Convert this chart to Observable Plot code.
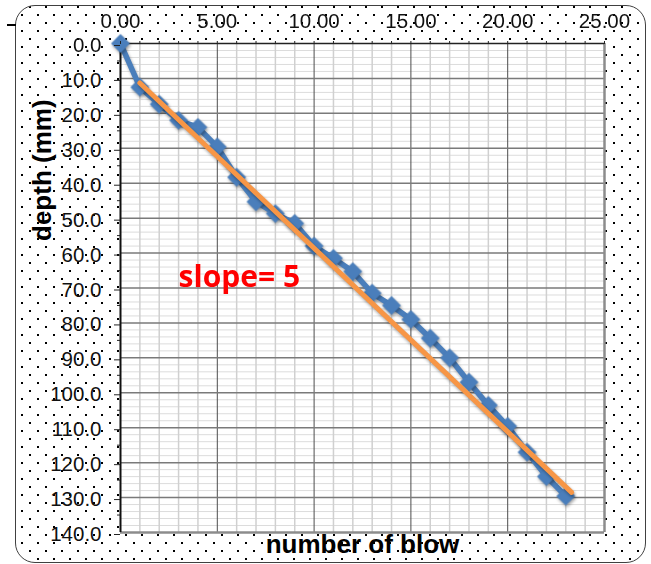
<!DOCTYPE html>
<html>
<head>
<meta charset="utf-8">
<script src="https://cdn.jsdelivr.net/npm/d3@7"></script>
<script src="https://cdn.jsdelivr.net/npm/@observablehq/plot@0.6"></script>
<style>
  html, body { margin: 0; padding: 0; background: #fff; }
  #wrap { position: relative; width: 651px; height: 564px; overflow: hidden; }
  #bg { position: absolute; left: 15px; top: 5px; width: 629px; height: 556px;
        border: 1px solid #404040; border-radius: 20px; background-color: #fff; }
  #dash { position: absolute; left: 7px; top: 24px; width: 9px; height: 2px; background: #000; }
  #chart { position: absolute; left: 0; top: 0; }
  #chart svg g[aria-label="line"], #chart svg g[aria-label="dot"] {
    filter: drop-shadow(1.5px 2px 1.5px rgba(0,0,0,0.35));
  }
</style>
</head>
<body>
<div id="wrap">
  <div id="bg"></div>
  <div id="dash"></div>
  <div id="chart"></div>
</div>
<script>
// ---- data ----
const blows = [0, 1, 2, 3, 4, 5, 6, 7, 8, 9, 10, 11, 12, 13, 14, 15, 16, 17, 18, 19, 20, 21, 22, 23];
const depthMm = [0, 12.5, 17.4, 22.0, 24.0, 29.6, 38.3, 45.3, 48.7, 51.5, 58.0, 61.5, 65.3, 71.5, 75.0, 79.0, 84.4, 90.0, 97.0, 103.6, 109.6, 117.0, 124.0, 129.6];
const trendBlows = [1, 23.3];
const trendDepth = [11.3, 128.5];
const xTickValues = [0, 5, 10, 15, 20, 25];
const yTickValues = [0, 10, 20, 30, 40, 50, 60, 70, 80, 90, 100, 110, 120, 130, 140];
const annotationText = ["slope= 5"];
const annotationBlows = [3.0];
const annotationDepth = [67];
const xTitle = "number of blow";
const yTitle = "depth (mm)";

// ---- background dot pattern ----
const dotSvg = "<svg xmlns='http://www.w3.org/2000/svg' width='16' height='16'>" +
  "<rect x='13' y='0' width='2' height='2' fill='#000'/>" +
  "<rect x='5' y='8' width='2' height='2' fill='#000'/></svg>";
document.getElementById("bg").style.backgroundImage =
  `url("data:image/svg+xml,${encodeURIComponent(dotSvg)}")`;

const points = blows.map((b, i) => ({blows: b, depth: depthMm[i]}));
const trend = trendBlows.map((b, i) => ({blows: b, depth: trendDepth[i]}));
const notes = annotationText.map((t, i) => ({text: t, blows: annotationBlows[i], depth: annotationDepth[i]}));

const xMinor = d3.range(1, 25).filter(v => v % 5 !== 0);
const yMinor = d3.range(2, 140, 2).filter(v => v % 10 !== 0);
const yMajorInner = yTickValues.filter(v => v > 0 && v < 140);
const xMajorInner = xTickValues.filter(v => v > 0 && v < 25);
const blue = "#4a7ebb";
const orange = "#f79646";
const fmt2 = d3.format(".2f");
const fmt1 = d3.format(".1f");

const chart = Plot.plot({
  width: 651,
  height: 564,
  marginLeft: 120,
  marginRight: 47,
  marginTop: 43,
  marginBottom: 32,
  style: {background: "transparent", fontFamily: "'Liberation Sans', Arial, sans-serif", color: "#1a1a1a", overflow: "visible"},
  x: {domain: [0, 25], label: null},
  y: {domain: [0, 140], reverse: true, label: null},
  marks: [
    Plot.frame({fill: "white", stroke: "none"}),
    Plot.ruleY(yMinor, {stroke: "#dcdcdc", strokeWidth: 1}),
    Plot.ruleX(xMinor, {stroke: "#d0d0d0", strokeWidth: 1.5}),
    Plot.ruleX(xMajorInner, {stroke: "#4d4d4d", strokeWidth: 1}),
    Plot.ruleY(yMajorInner, {stroke: "#7a7a7a", strokeWidth: 1.5}),
    Plot.ruleX([25], {stroke: "#8c8c8c", strokeWidth: 2.5}),
    Plot.ruleY([140], {stroke: "#8c8c8c", strokeWidth: 2.5}),
    Plot.ruleX([0], {stroke: "#111", strokeWidth: 2}),
    Plot.ruleY([0], {stroke: "#222", strokeWidth: 1.5}),
    Plot.line(points, {x: "blows", y: "depth", stroke: blue, strokeWidth: 5.5}),
    Plot.dot(points, {x: "blows", y: "depth", symbol: "diamond2", r: 8.5, fill: blue, stroke: "none"}),
    Plot.line(trend, {x: "blows", y: "depth", stroke: orange, strokeWidth: 5}),
    Plot.text(notes, {x: "blows", y: "depth", text: "text", textAnchor: "start", lineAnchor: "middle",
      fill: "#ff0000", fontSize: 30, fontWeight: 700, fontFamily: "'Open Sans', sans-serif"}),
    Plot.axisX(xTickValues, {anchor: "top", tickSize: 0, tickPadding: 16, tickFormat: fmt2,
      fontSize: 20.5, label: null, fill: "#111"}),
    Plot.axisX(d3.range(0, 26), {anchor: "top", tickSize: 3, tickFormat: () => "", label: null, stroke: "#222"}),
    Plot.axisY(yTickValues, {anchor: "left", tickSize: 6, tickPadding: 13, tickFormat: fmt1,
      fontSize: 20.5, dy: 2, label: null, fill: "#111", stroke: "#222"}),
    Plot.axisY(d3.range(5, 140, 10), {anchor: "left", tickSize: 3, tickFormat: () => "", label: null, stroke: "#222"}),
    Plot.text([xTitle], {text: d => d, frameAnchor: "bottom", dy: 12, lineAnchor: "middle",
      fontSize: 26, fontWeight: "bold", fill: "#000"}),
    Plot.text([yTitle], {text: d => d, frameAnchor: "left", rotate: -90, dx: -78, dy: -47, lineAnchor: "middle",
      fontSize: 26, fontWeight: "bold", fill: "#000"})
  ]
});
document.getElementById("chart").appendChild(chart);
</script>
</body>
</html>
